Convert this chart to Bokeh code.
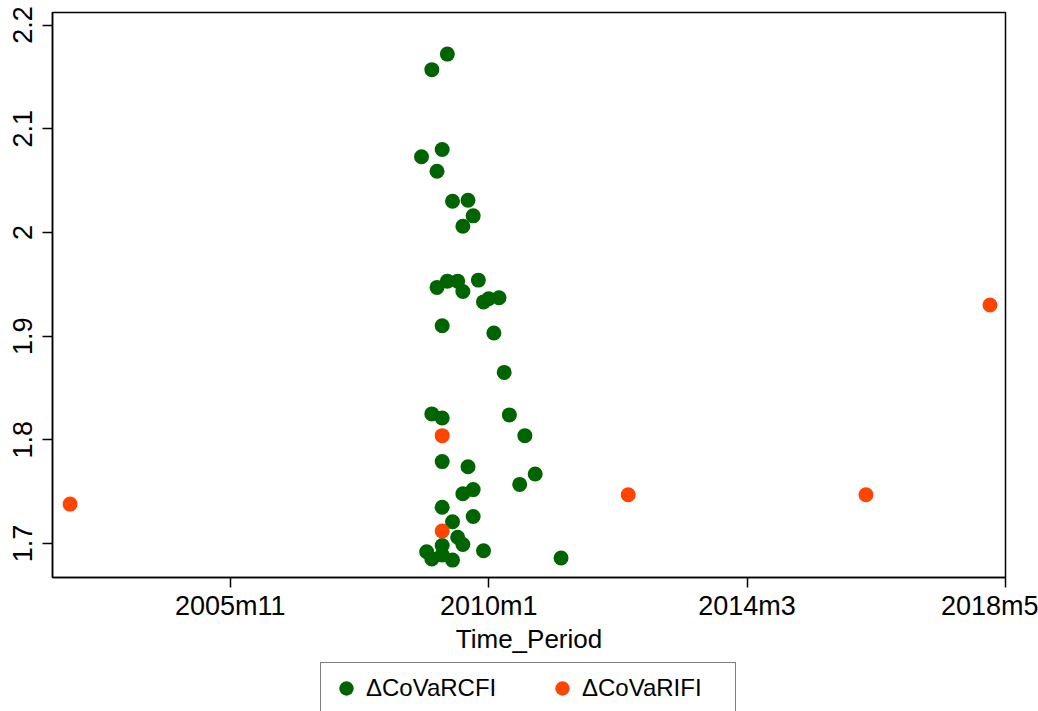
from bokeh.plotting import figure
from bokeh.layouts import column
from bokeh.models import Range1d, FixedTicker, Legend, LegendItem, NumeralTickFormatter
from bokeh.embed import file_html
from bokeh.resources import INLINE

# ---- data (Stata monthly periods) ----
cfi_period = ["2009m5", "2009m2", "2009m4", "2008m12", "2009m3", "2009m6", "2009m9",
              "2009m10", "2009m8", "2009m3", "2009m5", "2009m7", "2009m8", "2009m11",
              "2009m12", "2010m1", "2010m3", "2009m4", "2010m2", "2010m4", "2009m2",
              "2009m4", "2010m5", "2010m8", "2009m4", "2009m9", "2010m10", "2009m8",
              "2009m10", "2010m7", "2009m4", "2009m10", "2009m6", "2009m7", "2009m8",
              "2009m4", "2009m1", "2009m2", "2009m4", "2009m6", "2009m12", "2011m3"]
cfi_value = [2.172, 2.157, 2.080, 2.073, 2.059, 2.030, 2.031,
             2.016, 2.006, 1.947, 1.953, 1.953, 1.943, 1.954,
             1.933, 1.936, 1.937, 1.910, 1.903, 1.865, 1.825,
             1.821, 1.824, 1.804, 1.779, 1.774, 1.767, 1.748,
             1.752, 1.757, 1.735, 1.726, 1.721, 1.706, 1.699,
             1.698, 1.692, 1.685, 1.689, 1.684, 1.693, 1.686]

ifi_period = ["2003m4", "2009m4", "2009m4", "2012m4", "2016m2", "2018m2"]
ifi_value = [1.738, 1.804, 1.712, 1.747, 1.747, 1.930]

x_tick_labels = ["2005m11", "2010m1", "2014m3", "2018m5"]
y_ticks = [1.7, 1.8, 1.9, 2.0, 2.1, 2.2]

series_names = ["\u0394CoVaRCFI", "\u0394CoVaRIFI"]
series_colors = ["#006400", "#FF4500"]


def tm(s):
    y, m = s.split("m")
    return (int(y) - 1960) * 12 + int(m) - 1


cfi_x = [tm(s) for s in cfi_period]
ifi_x = [tm(s) for s in ifi_period]
x_ticks = [tm(s) for s in x_tick_labels]

FONT = "Liberation Sans"

p = figure(width=1038, height=660, output_backend="svg", toolbar_location=None,
           x_range=Range1d(515.6, 700.0), y_range=Range1d(1.6672, 2.2121),
           min_border_left=52, min_border_right=33, min_border_top=12,
           min_border_bottom=83)
p.background_fill_color = "white"
p.border_fill_color = "white"
p.outline_line_color = "black"
p.outline_line_width = 1.5
p.xgrid.visible = False
p.ygrid.visible = False

g = p.scatter(cfi_x, cfi_value, size=15, color=series_colors[0], line_color=None)
r = p.scatter(ifi_x, ifi_value, size=15, color=series_colors[1], line_color=None)

xa = p.xaxis[0]
xa.ticker = FixedTicker(ticks=x_ticks)
xa.major_label_overrides = {t: l for t, l in zip(x_ticks, x_tick_labels)}
xa.minor_tick_line_color = None
xa.major_tick_in = 0
xa.major_tick_out = 10
xa.major_tick_line_width = 1.5
xa.axis_line_width = 1.5
xa.major_label_text_font = FONT
xa.major_label_text_font_size = "27px"
xa.major_label_text_color = "black"
xa.major_label_standoff = 3
xa.axis_label = "Time_Period"
xa.axis_label_text_font = FONT
xa.axis_label_text_font_size = "26px"
xa.axis_label_text_font_style = "normal"
xa.axis_label_text_color = "black"
xa.axis_label_standoff = 0

ya = p.yaxis[0]
ya.ticker = FixedTicker(ticks=y_ticks)
ya.formatter = NumeralTickFormatter(format="0.[0]")
ya.minor_tick_line_color = None
ya.major_tick_in = 0
ya.major_tick_out = 10
ya.major_tick_line_width = 1.5
ya.axis_line_width = 1.5
ya.major_label_text_font = FONT
ya.major_label_text_font_size = "27px"
ya.major_label_text_color = "black"
ya.major_label_orientation = "vertical"
ya.major_label_standoff = 10

# ---- legend strip below the plot (its frame is aligned with the plot's frame) ----
lg = figure(width=1038, height=51, output_backend="svg", toolbar_location=None,
            x_axis_type=None, y_axis_type=None, x_range=Range1d(0, 1), y_range=Range1d(0, 1),
            min_border_left=0, min_border_right=0, min_border_top=0, min_border_bottom=0)
lg.outline_line_color = None
lg.background_fill_color = "white"
lg.border_fill_color = "white"
lg.xgrid.visible = False
lg.ygrid.visible = False
# key markers only: placed outside the strip's visible range so only the legend shows them
lg_g = lg.scatter([-5], [-5], size=15, color=series_colors[0], line_color=None)
lg_r = lg.scatter([-5], [-5], size=15, color=series_colors[1], line_color=None)

legend = Legend(items=[LegendItem(label=series_names[0], renderers=[lg_g]),
                       LegendItem(label=series_names[1], renderers=[lg_r])],
                orientation="horizontal", location=(268, -3), margin=0,
                padding=7, spacing=32, glyph_width=36, glyph_height=36,
                label_standoff=2, label_width=146,
                label_text_font=FONT, label_text_font_size="24px",
                label_text_color="black", border_line_color="black",
                border_line_width=1.2, background_fill_color="white",
                background_fill_alpha=1.0)
lg.add_layout(legend, "center")

open("out.html", "w").write(file_html(column(p, lg, spacing=0), INLINE))
